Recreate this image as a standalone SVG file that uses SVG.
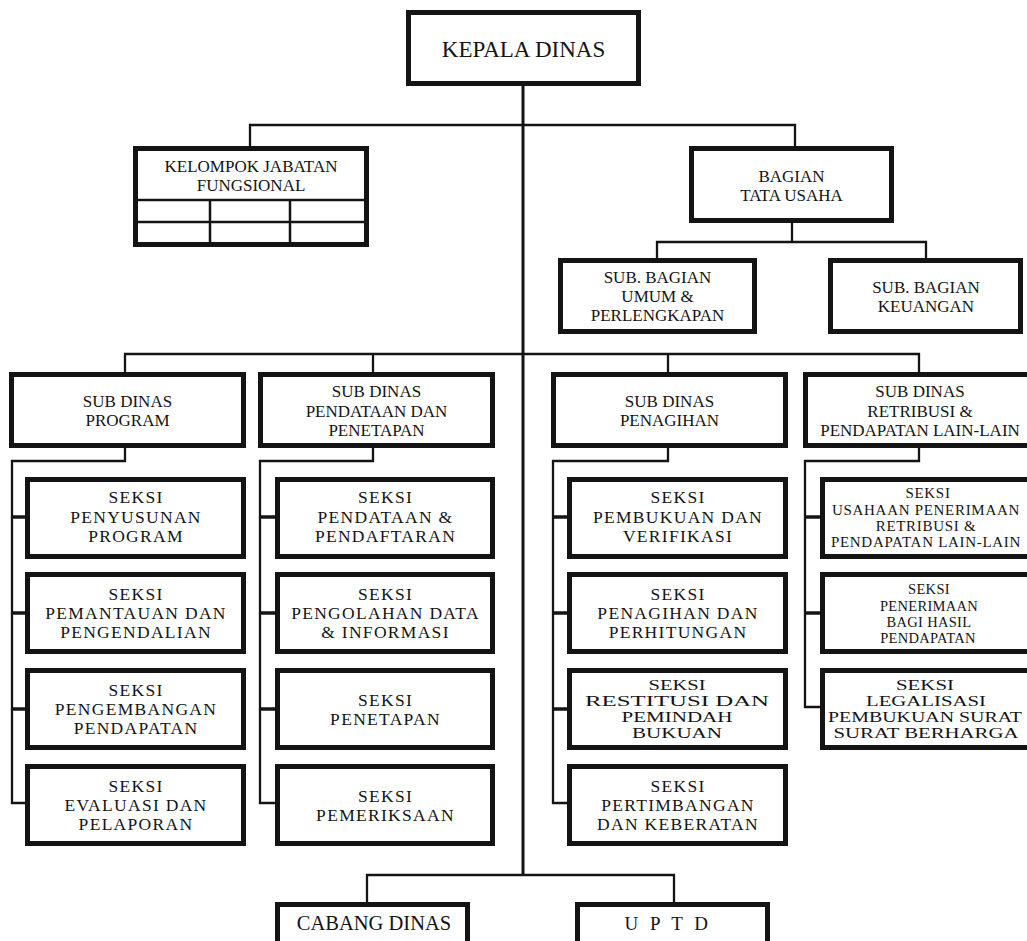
<svg xmlns="http://www.w3.org/2000/svg" width="1027" height="941" viewBox="0 0 1027 941" font-family="'Liberation Serif', 'DejaVu Serif', serif">
<style>
.box{fill:#fff;stroke:#141414;stroke-width:5}
.ln{fill:none;stroke:#141414;stroke-width:2.3}
.main{fill:none;stroke:#141414;stroke-width:3}
.tick{fill:none;stroke:#141414;stroke-width:3.5}
.grid{fill:none;stroke:#141414;stroke-width:2.5}
text{font-family:'Liberation Serif','DejaVu Serif',serif;fill:#141414;text-anchor:middle}
.t17{font-size:17px}
.s{font-size:17.5px;letter-spacing:1.3px}
.w{font-size:15px}
.a{font-size:15px;letter-spacing:0.7px}
.b{font-size:14.5px;letter-spacing:0.3px}
</style>
<rect width="1027" height="941" fill="#fff"/>
<g id="connectors">
<path class="main" d="M523 86V875"/>
<path class="ln" d="M250 146V125H795V146"/>
<path class="ln" d="M792 223V242M657 258V242H926V258"/>
<path class="ln" d="M125 372V354H919V372M373 354V372M668 354V372"/>
<path class="ln" d="M125 448V461H12V803H25M373 448V461H260V803H275M668 448V461H553V803H567M919 448V461H805V707H820"/>
<path class="tick" d="M12 517H25M12 613H25M12 709H25M260 517H275M260 613H275M260 709H275M553 517H567M553 613H567M553 709H567M805 517H820M805 613H820"/>
<path class="ln" d="M367 902V875H674V902"/>
</g>
<g id="kepala"><rect class="box" x="408.5" y="12.5" width="230" height="71"/><text x="523.5" y="56.5" style="font-size:23px">KEPALA DINAS</text></g>
<g id="kelompok"><rect class="box" x="135.5" y="148.5" width="231" height="96"/>
<path class="grid" d="M136 200H366M136 222H366M210 200V245M290 200V245"/>
<text class="t17" x="251" y="172">KELOMPOK JABATAN</text><text class="t17" x="251" y="191">FUNGSIONAL</text></g>
<g id="bagian-tu"><rect class="box" x="691.5" y="148.5" width="200" height="72"/><text class="t17" x="791.5" y="182">BAGIAN</text><text class="t17" x="791.5" y="201">TATA USAHA</text></g>
<g id="subbag-umum"><rect class="box" x="560.5" y="260.5" width="194" height="71"/><text class="t17" x="657.5" y="283">SUB. BAGIAN</text><text class="t17" x="657.5" y="302">UMUM &amp;</text><text class="t17" x="657.5" y="321">PERLENGKAPAN</text></g>
<g id="subbag-keu"><rect class="box" x="830.5" y="260.5" width="190" height="71"/><text class="t17" x="926" y="293">SUB. BAGIAN</text><text class="t17" x="926" y="312">KEUANGAN</text></g>
<g id="sd-program"><rect class="box" x="11.5" y="374.5" width="232" height="71"/><text class="t17" x="127.5" y="407">SUB DINAS</text><text class="t17" x="127.5" y="426">PROGRAM</text></g>
<g id="sd-pendataan"><rect class="box" x="260.5" y="374.5" width="232" height="71"/><text class="t17" x="376.5" y="397">SUB DINAS</text><text class="t17" x="376.5" y="417">PENDATAAN DAN</text><text class="t17" x="376.5" y="436">PENETAPAN</text></g>
<g id="sd-penagihan"><rect class="box" x="553.5" y="374.5" width="232" height="71"/><text class="t17" x="669.5" y="407">SUB DINAS</text><text class="t17" x="669.5" y="426">PENAGIHAN</text></g>
<g id="sd-retribusi"><rect class="box" x="805.5" y="374.5" width="229" height="71"/><text class="t17" x="920" y="397">SUB DINAS</text><text class="t17" x="920" y="417">RETRIBUSI &amp;</text><text class="t17" x="920" y="436">PENDAPATAN LAIN-LAIN</text></g>
<g id="s1-1"><rect class="box" x="27.5" y="479.5" width="216" height="77"/><text class="s" x="136" y="503">SEKSI</text><text class="s" x="136" y="523">PENYUSUNAN</text><text class="s" x="136" y="542">PROGRAM</text></g>
<g id="s1-2"><rect class="box" x="27.5" y="574.5" width="216" height="77"/><text class="s" x="136" y="600">SEKSI</text><text class="s" x="136" y="619">PEMANTAUAN DAN</text><text class="s" x="136" y="638">PENGENDALIAN</text></g>
<g id="s1-3"><rect class="box" x="27.5" y="670.5" width="216" height="77"/><text class="s" x="136" y="696">SEKSI</text><text class="s" x="136" y="715">PENGEMBANGAN</text><text class="s" x="136" y="734">PENDAPATAN</text></g>
<g id="s1-4"><rect class="box" x="27.5" y="766.5" width="216" height="77"/><text class="s" x="136" y="792">SEKSI</text><text class="s" x="136" y="811">EVALUASI DAN</text><text class="s" x="136" y="830">PELAPORAN</text></g>
<g id="s2-1"><rect class="box" x="277.5" y="479.5" width="215" height="77"/><text class="s" x="385.5" y="503">SEKSI</text><text class="s" x="385.5" y="523">PENDATAAN &amp;</text><text class="s" x="385.5" y="542">PENDAFTARAN</text></g>
<g id="s2-2"><rect class="box" x="277.5" y="574.5" width="215" height="77"/><text class="s" x="385.5" y="600">SEKSI</text><text class="s" x="385.5" y="619">PENGOLAHAN DATA</text><text class="s" x="385.5" y="638">&amp; INFORMASI</text></g>
<g id="s2-3"><rect class="box" x="277.5" y="670.5" width="215" height="77"/><text class="s" x="385.5" y="706">SEKSI</text><text class="s" x="385.5" y="725">PENETAPAN</text></g>
<g id="s2-4"><rect class="box" x="277.5" y="766.5" width="215" height="77"/><text class="s" x="385.5" y="802">SEKSI</text><text class="s" x="385.5" y="821">PEMERIKSAAN</text></g>
<g id="s3-1"><rect class="box" x="569.5" y="479.5" width="216" height="77"/><text class="s" x="678" y="503">SEKSI</text><text class="s" x="678" y="523">PEMBUKUAN DAN</text><text class="s" x="678" y="542">VERIFIKASI</text></g>
<g id="s3-2"><rect class="box" x="569.5" y="574.5" width="216" height="77"/><text class="s" x="678" y="600">SEKSI</text><text class="s" x="678" y="619">PENAGIHAN DAN</text><text class="s" x="678" y="638">PERHITUNGAN</text></g>
<g id="s3-3"><rect class="box" x="569.5" y="670.5" width="216" height="77"/><text class="w" x="677" y="690" textLength="57" lengthAdjust="spacingAndGlyphs">SEKSI</text><text class="w" x="677" y="706" textLength="184" lengthAdjust="spacingAndGlyphs">RESTITUSI DAN</text><text class="w" x="677" y="722" textLength="111" lengthAdjust="spacingAndGlyphs">PEMINDAH</text><text class="w" x="677" y="738" textLength="90" lengthAdjust="spacingAndGlyphs">BUKUAN</text></g>
<g id="s3-4"><rect class="box" x="569.5" y="766.5" width="216" height="77"/><text class="s" x="678" y="792">SEKSI</text><text class="s" x="678" y="811">PERTIMBANGAN</text><text class="s" x="678" y="830">DAN KEBERATAN</text></g>
<g id="s4-1"><rect class="box" x="822.5" y="479.5" width="209" height="77"/><text class="a" x="928" y="498">SEKSI</text><text class="a" x="926" y="515">USAHAAN PENERIMAAN</text><text class="a" x="926" y="531">RETRIBUSI &amp;</text><text class="a" x="926" y="547">PENDAPATAN LAIN-LAIN</text></g>
<g id="s4-2"><rect class="box" x="822.5" y="574.5" width="209" height="77"/><text class="b" x="929" y="594">SEKSI</text><text class="b" x="929" y="611">PENERIMAAN</text><text class="b" x="929" y="627">BAGI HASIL</text><text class="b" x="928" y="643">PENDAPATAN</text></g>
<g id="s4-3"><rect class="box" x="822.5" y="670.5" width="209" height="77"/><text class="w" x="925" y="690" textLength="58" lengthAdjust="spacingAndGlyphs">SEKSI</text><text class="w" x="926" y="706" textLength="120" lengthAdjust="spacingAndGlyphs">LEGALISASI</text><text class="w" x="925" y="722" textLength="194" lengthAdjust="spacingAndGlyphs">PEMBUKUAN SURAT</text><text class="w" x="926" y="738" textLength="185" lengthAdjust="spacingAndGlyphs">SURAT BERHARGA</text></g>
<g id="cabang"><rect class="box" x="277.5" y="904.5" width="190" height="60"/><text x="374" y="930" style="font-size:20.5px">CABANG DINAS</text></g>
<g id="uptd"><rect class="box" x="577.5" y="904.5" width="190" height="60"/><text x="668" y="930" style="font-size:19px;letter-spacing:3.5px">U P T D</text></g>
</svg>
